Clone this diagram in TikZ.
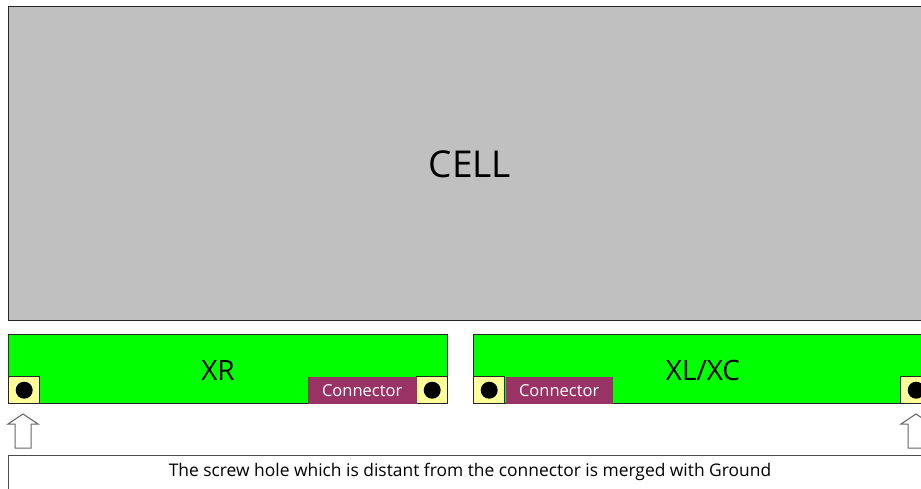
\documentclass[tikz,border=0pt]{standalone}
\usepackage{fontspec}
\setmainfont{Open Sans}
\usetikzlibrary{calc}
\definecolor{cellgray}{HTML}{C0C0C0}
\definecolor{boardgreen}{HTML}{00FF00}
\definecolor{holeyellow}{HTML}{FFFF99}
\definecolor{connmaroon}{HTML}{993366}
\begin{document}
\begin{tikzpicture}[x=1pt,y=-1pt]
                      \tikzstyle{box}=[draw=black!85,line width=1.4pt,inner sep=0pt,anchor=north west]
                      \tikzstyle{board}=[box,fill=boardgreen,minimum height=69pt]
                      \tikzstyle{hole}=[box,fill=holeyellow,minimum width=31pt,minimum height=27pt]
                      \tikzstyle{conn}=[box,draw=none,fill=connmaroon,text=white,minimum height=27pt,font=\fontsize{16.5}{16.5}\selectfont]
                      \tikzstyle{screw}=[circle,fill=black,inner sep=0pt,minimum size=17pt]
                      \tikzstyle{uparrow}=[draw=black!60,line width=1pt,fill=white,line join=miter]
                      \useasboundingbox (0,0) rectangle (921,488);
                      \clip (0,0) rectangle (921,488);
                      % cell
                      \node[box,fill=cellgray,minimum width=940pt,minimum height=314pt] (cell) at (8,6) {};
                      \node[font=\fontsize{37}{37}\selectfont] (celltxt) at (470,164) {CELL};
                      % boards
                      \node[board,minimum width=439pt] (xr) at (8,334) {};
                      \node[board,minimum width=470pt] (xl) at (473,334) {};
                      \node[font=\fontsize{28}{28}\selectfont] (xrtxt) at (218,370) {XR};
                      \node[font=\fontsize{28}{28}\selectfont] (xltxt) at (703,370) {XL/XC};
                      \node[hole] (xrh1) at (8,376) {};
                      \node[hole] (xrh2) at (416,376) {};
                      \node[hole] (xlh1) at (473,376) {};
                      \node[hole] (xlh2) at (900,376) {};
                      \foreach \h in {xrh1,xrh2,xlh1,xlh2}
                        \node[screw] (\h s) at (\h.center) {};
                      \node[conn,minimum width=109pt] (xrc) at (307,376) {Connector};
                      \node[conn,minimum width=107pt] (xlc) at (505,376) {Connector};
                      % arrows
                      \foreach \dx in {0,893}
                        \draw[uparrow,shift={(\dx,0)}] (23,414) -- (38,424) -- (31,424) -- (31,448) -- (15,448) -- (15,424) -- (8,424) -- cycle;
                      % note
                      \node[box,draw=black!70,fill=white,minimum width=940pt,minimum height=40pt] (note) at (8,455) {};
                      \node[font=\fontsize{17.4}{17.4}\selectfont] (notetxt) at (470,472) {The screw hole which is distant from the connector is merged with Ground};
\end{tikzpicture}
\end{document}
